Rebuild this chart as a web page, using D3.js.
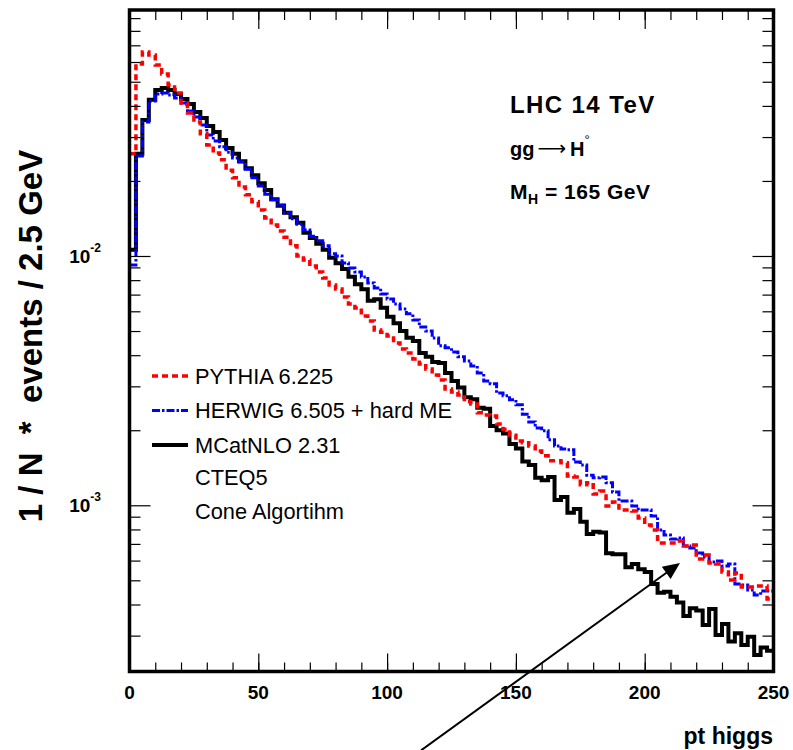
<!DOCTYPE html>
<html>
<head>
<meta charset="utf-8">
<script src="https://cdn.jsdelivr.net/npm/d3@7"></script>
<style>
  body { margin: 0; background: #fff; }
  svg { display: block; }
  text { font-family: "Liberation Sans", Arial, Helvetica, sans-serif; fill: #000; }
</style>
</head>
<body>
<svg id="chart" width="793" height="750"></svg>
<script>
// pT of the Higgs, 100 bins of 2.5 GeV from 0 to 250 GeV, normalised per event
const binWidth = 2.5;
const nBins = 100;

const xTickValues = [0, 50, 100, 150, 200, 250];
const xTickLabels = ["0", "50", "100", "150", "200", "250"];
const yDecades = [1e-3, 1e-2];
const yDecadeLabels = [["10", "-3"], ["10", "-2"]];

// PYTHIA 6.225
const pythia = [
  0.0257, 0.0589, 0.0658, 0.0640, 0.0584, 0.0537, 0.0485, 0.0451, 0.0411, 0.0375,
  0.0345, 0.0309, 0.0279, 0.0259, 0.0243, 0.0221, 0.0206, 0.0189, 0.0176, 0.0165,
  0.0153, 0.0142, 0.0133, 0.0126, 0.0119, 0.0110, 0.0100, 0.00964, 0.00912, 0.00863,
  0.00816, 0.00765, 0.00737, 0.00685, 0.00642, 0.00619, 0.00574, 0.00549, 0.00505, 0.00495,
  0.00478, 0.00448, 0.00424, 0.00408, 0.00386, 0.00369, 0.00352, 0.00333, 0.00318, 0.00293,
  0.00285, 0.00277, 0.00260, 0.00255, 0.00235, 0.00230, 0.00228, 0.00212, 0.00202, 0.00191,
  0.00181, 0.00178, 0.00173, 0.00165, 0.00158, 0.00151, 0.00151, 0.00148, 0.00131, 0.00130,
  0.00121, 0.00123, 0.00111, 0.00114, 0.000994, 0.00103, 0.000957, 0.000957, 0.000949, 0.000889,
  0.000834, 0.000796, 0.000706, 0.000706, 0.000706, 0.000719, 0.000687, 0.000693, 0.000609, 0.000632,
  0.000587, 0.000581, 0.000540, 0.000502, 0.000535, 0.000470, 0.000470, 0.000475, 0.000475, 0.000421
];

// HERWIG 6.505 + hard ME
const herwig = [
  0.00920, 0.0252, 0.0345, 0.0419, 0.0447, 0.0451, 0.0442, 0.0430, 0.0411, 0.0382,
  0.0361, 0.0335, 0.0306, 0.0289, 0.0274, 0.0261, 0.0247, 0.0238, 0.0223, 0.0206,
  0.0191, 0.0177, 0.0168, 0.0160, 0.0149, 0.0141, 0.0134, 0.0127, 0.0120, 0.0115,
  0.0110, 0.0102, 0.0100, 0.00937, 0.00895, 0.00863, 0.00824, 0.00779, 0.00744, 0.00704,
  0.00672, 0.00642, 0.00613, 0.00586, 0.00554, 0.00519, 0.00500, 0.00469, 0.00436, 0.00428,
  0.00412, 0.00394, 0.00379, 0.00362, 0.00339, 0.00315, 0.00307, 0.00282, 0.00275, 0.00265,
  0.00253, 0.00232, 0.00216, 0.00204, 0.00199, 0.00183, 0.00173, 0.00168, 0.00167, 0.00149,
  0.00145, 0.00132, 0.00129, 0.00130, 0.00123, 0.00113, 0.00104, 0.00104, 0.000994, 0.000957,
  0.000957, 0.000906, 0.000796, 0.000760, 0.000732, 0.000739, 0.000687, 0.000674, 0.000644, 0.000620,
  0.000592, 0.000598, 0.000571, 0.000581, 0.000483, 0.000479, 0.000457, 0.000437, 0.000453, 0.000453
];

// MCatNLO 2.31
const mcatnlo = [
  0.0106, 0.0257, 0.0351, 0.0423, 0.0463, 0.0472, 0.0463, 0.0447, 0.0426, 0.0407,
  0.0378, 0.0358, 0.0332, 0.0314, 0.0292, 0.0271, 0.0257, 0.0240, 0.0225, 0.0211,
  0.0196, 0.0184, 0.0169, 0.0159, 0.0149, 0.0143, 0.0136, 0.0124, 0.0118, 0.0112,
  0.0106, 0.00984, 0.00935, 0.00887, 0.00826, 0.00770, 0.00735, 0.00662, 0.00670, 0.00620,
  0.00571, 0.00537, 0.00500, 0.00470, 0.00456, 0.00408, 0.00394, 0.00376, 0.00372, 0.00339,
  0.00315, 0.00297, 0.00271, 0.00266, 0.00246, 0.00244, 0.00208, 0.00200, 0.00194, 0.00176,
  0.00169, 0.00150, 0.00145, 0.00129, 0.00126, 0.00130, 0.00105, 0.00108, 0.000934, 0.000966,
  0.000859, 0.000767, 0.000783, 0.000777, 0.000642, 0.000636, 0.000636, 0.000564, 0.000581, 0.000554,
  0.000540, 0.000483, 0.000446, 0.000450, 0.000430, 0.000407, 0.000360, 0.000386, 0.000378, 0.000331,
  0.000384, 0.000302, 0.000334, 0.000284, 0.000307, 0.000275, 0.000297, 0.000251, 0.000269, 0.000261
];

const seriesNames = ["PYTHIA 6.225", "HERWIG 6.505 + hard ME", "MCatNLO 2.31"];
const noteLines = ["CTEQ5", "Cone Algortihm"];

// arrow annotation, in (pT, 1/N dN) coordinates
const arrowFrom = [113.2, 1.04e-4];
const arrowTo = [213.7, 5.87e-4];

// ---------------------------------------------------------------
const svg = d3.select("#chart");
const frame = { left: 129.5, right: 773.5, top: 10, bottom: 671.5 };

const x = d3.scaleLinear().domain([0, binWidth * nBins]).range([frame.left, frame.right]);
const y = d3.scaleLog().domain([2.154e-4, 0.097]).range([frame.bottom, frame.top]);

const styles = {
  pythia:  { color: "#ff0000", width: 3.5, dash: "6,4" },
  herwig:  { color: "#0000ff", width: 3,   dash: "8,2,2.5,2" },
  mcatnlo: { color: "#000000", width: 4,   dash: null }
};

svg.append("defs").append("clipPath").attr("id", "plotclip")
  .append("rect")
  .attr("x", frame.left).attr("y", frame.top)
  .attr("width", frame.right - frame.left).attr("height", frame.bottom - frame.top);

// histogram outline as a step path
function stepPoints(values) {
  const pts = [];
  values.forEach((v, i) => {
    pts.push([i * binWidth, v]);
    pts.push([(i + 1) * binWidth, v]);
  });
  return pts;
}
const line = d3.line().x(d => x(d[0])).y(d => y(d[1]));

const plot = svg.append("g").attr("clip-path", "url(#plotclip)");
[["mcatnlo", mcatnlo], ["herwig", herwig], ["pythia", pythia]].forEach(([key, vals]) => {
  const s = styles[key];
  plot.append("path")
    .attr("d", line(stepPoints(vals)))
    .attr("fill", "none")
    .attr("stroke", s.color)
    .attr("stroke-width", s.width)
    .attr("stroke-dasharray", s.dash)
    .attr("stroke-linejoin", "miter");
});

// ---- axes ----
function styleAxis(g) {
  g.select(".domain").remove();
  g.selectAll(".tick line").attr("stroke", "#000").attr("stroke-width", 1.2);
  g.selectAll(".tick text").remove();
}
const xMinor = d3.range(0, 251, 10);
const yMinor = [];
[1e-4, 1e-3, 1e-2].forEach(d => { for (let m = 2; m <= 9; m++) yMinor.push(m * d); });
const yMinorIn = yMinor.filter(v => v >= y.domain()[0] && v <= y.domain()[1]);

svg.append("g").attr("transform", `translate(0,${frame.bottom})`)
  .call(d3.axisTop(x).tickValues(xTickValues).tickSize(18)).call(styleAxis);
svg.append("g").attr("transform", `translate(0,${frame.bottom})`)
  .call(d3.axisTop(x).tickValues(xMinor).tickSize(9)).call(styleAxis);
svg.append("g").attr("transform", `translate(0,${frame.top})`)
  .call(d3.axisBottom(x).tickValues(xTickValues).tickSize(19)).call(styleAxis);
svg.append("g").attr("transform", `translate(0,${frame.top})`)
  .call(d3.axisBottom(x).tickValues(xMinor).tickSize(10)).call(styleAxis);

svg.append("g").attr("transform", `translate(${frame.left},0)`)
  .call(d3.axisRight(y).tickValues(yDecades).tickSize(21)).call(styleAxis);
svg.append("g").attr("transform", `translate(${frame.left},0)`)
  .call(d3.axisRight(y).tickValues(yMinorIn).tickSize(11)).call(styleAxis);
svg.append("g").attr("transform", `translate(${frame.right},0)`)
  .call(d3.axisLeft(y).tickValues(yDecades).tickSize(21)).call(styleAxis);
svg.append("g").attr("transform", `translate(${frame.right},0)`)
  .call(d3.axisLeft(y).tickValues(yMinorIn).tickSize(11)).call(styleAxis);

// frame
svg.append("rect")
  .attr("x", frame.left).attr("y", frame.top)
  .attr("width", frame.right - frame.left).attr("height", frame.bottom - frame.top)
  .attr("fill", "none").attr("stroke", "#000").attr("stroke-width", 3.5);

// x tick labels
svg.append("g").selectAll("text").data(xTickValues).join("text")
  .attr("x", d => x(d)).attr("y", 699)
  .attr("text-anchor", "middle")
  .attr("font-size", 19).attr("font-weight", "bold")
  .text((d, i) => xTickLabels[i]);

// y decade labels
yDecades.forEach((v, i) => {
  const t = svg.append("text")
    .attr("x", 101).attr("y", y(v) + 7)
    .attr("text-anchor", "end")
    .attr("font-size", 19).attr("font-weight", "bold");
  t.append("tspan").text(yDecadeLabels[i][0]);
  t.append("tspan").attr("dy", -11).attr("font-size", 12).text(yDecadeLabels[i][1]);
});

// axis titles
svg.append("text")
  .attr("x", 773).attr("y", 744)
  .attr("text-anchor", "end")
  .attr("font-size", 23).attr("font-weight", "bold")
  .text("pt higgs");

svg.append("text")
  .attr("transform", "translate(42,336) rotate(-90)")
  .attr("text-anchor", "middle")
  .attr("font-size", 33).attr("font-weight", "bold")
  .style("white-space", "pre")
  .text("1 / N  *  events / 2.5 GeV");

// process information
svg.append("text").attr("x", 510).attr("y", 113)
  .attr("font-size", 24).attr("font-weight", "bold")
  .attr("letter-spacing", 1.4).text("LHC 14 TeV");

const proc = svg.append("text").attr("x", 510).attr("y", 156)
  .attr("font-size", 20).attr("font-weight", "bold");
proc.append("tspan").text("gg");
proc.append("tspan").attr("font-weight", "normal").attr("font-family", "DejaVu Sans")
  .attr("font-size", 20).attr("dx", 3).attr("dy", -1).text("\u27f6");
proc.append("tspan").attr("dx", 4).attr("dy", 1).text("H");
proc.append("tspan").attr("font-size", 13).attr("font-weight", "normal").attr("dy", -12).text("\u00b0");

const mass = svg.append("text").attr("x", 510).attr("y", 199)
  .attr("font-size", 21).attr("font-weight", "bold").attr("letter-spacing", 0.5);
mass.append("tspan").text("M");
mass.append("tspan").attr("font-size", 14).attr("dy", 5).text("H");
mass.append("tspan").attr("dy", -5).text(" = 165 GeV");

// legend
const legendKeys = ["pythia", "herwig", "mcatnlo"];
const legendY = [376, 410.5, 445];
legendKeys.forEach((k, i) => {
  const s = styles[k];
  svg.append("line")
    .attr("x1", 152).attr("x2", 188)
    .attr("y1", legendY[i]).attr("y2", legendY[i])
    .attr("stroke", s.color).attr("stroke-width", s.width)
    .attr("stroke-dasharray", s.dash);
  svg.append("text")
    .attr("x", 195).attr("y", legendY[i] + 7.5)
    .attr("font-size", 21.8)
    .text(seriesNames[i]);
});
noteLines.forEach((t, i) => {
  svg.append("text")
    .attr("x", 195).attr("y", 485 + i * 34)
    .attr("font-size", 21.8)
    .text(t);
});

// arrow
const ax0 = x(arrowFrom[0]), ay0 = y(arrowFrom[1]);
const ax1 = x(arrowTo[0]), ay1 = y(arrowTo[1]);
const len = Math.hypot(ax1 - ax0, ay1 - ay0);
const ux = (ax1 - ax0) / len, uy = (ay1 - ay0) / len;
const headL = 17, headW = 7.5;
const bx = ax1 - ux * headL, by = ay1 - uy * headL;
svg.append("line")
  .attr("x1", ax0).attr("y1", ay0).attr("x2", bx + ux * 2).attr("y2", by + uy * 2)
  .attr("stroke", "#000").attr("stroke-width", 2);
svg.append("path")
  .attr("d", d3.line()([[ax1, ay1], [bx - uy * headW, by + ux * headW], [bx + uy * headW, by - ux * headW]]) + "Z")
  .attr("fill", "#000");
</script>
</body>
</html>
